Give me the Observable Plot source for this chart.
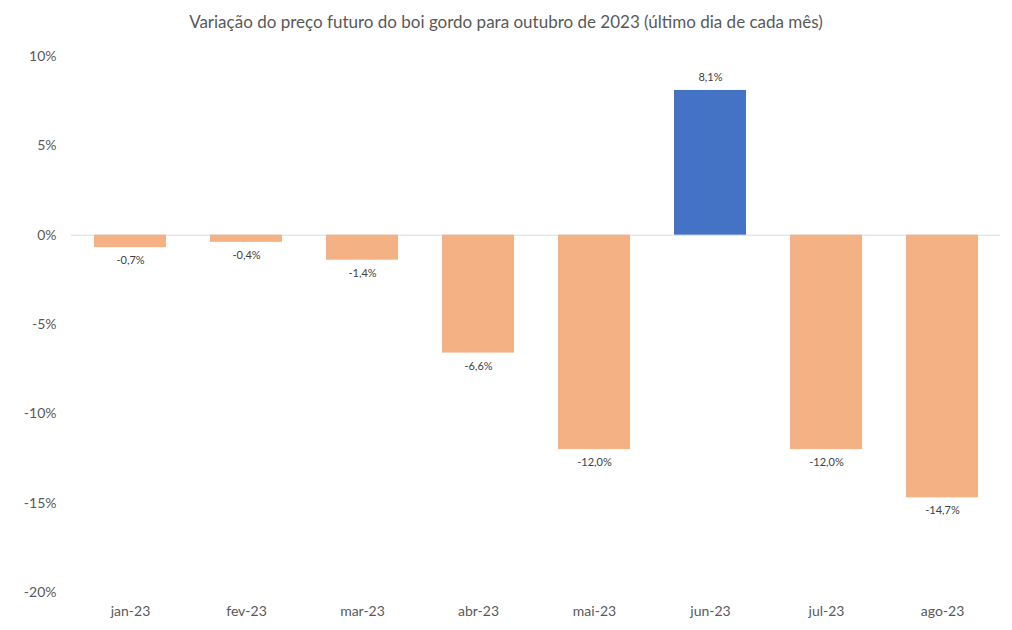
<!DOCTYPE html>
<html><head><meta charset="utf-8">
<script src="https://cdn.jsdelivr.net/npm/d3@7"></script>
<script src="https://cdn.jsdelivr.net/npm/@observablehq/plot@0.6"></script>
<style>
body{margin:0;background:#fff;font-family:Lato,"Open Sans",sans-serif;}
#title{height:40px;line-height:44px;text-align:center;font-size:17px;color:#595959;}
</style></head>
<body>
<div id="title">Variação do preço futuro do boi gordo para outubro de 2023 (último dia de cada mês)</div>
<div id="chart"></div>
<script>
const months = ["jan-23","fev-23","mar-23","abr-23","mai-23","jun-23","jul-23","ago-23"];
const values = [-0.7,-0.4,-1.4,-6.6,-12.0,8.1,-12.0,-14.7];
const yTicks = [-20,-15,-10,-5,0,5,10];
const data = months.map((m,i)=>({month:m,value:values[i]}));
const fmt = v => v.toFixed(1).replace(".", ",") + "%";
const chart = Plot.plot({
  width: 1012, height: 590,
  marginLeft: 71, marginRight: 12, marginTop: 16, marginBottom: 38,
  style: {fontFamily: "Lato, 'Open Sans', sans-serif", color: "#595959", background: "#fff"},
  x: {domain: months, paddingInner: 0.38, paddingOuter: 0.19, label: null, tickSize: 0, tickPadding: 14},
  y: {domain: [-20, 10], ticks: yTicks, tickFormat: d => d + "%", label: null, tickSize: 0, tickPadding: 15},
  marks: [
    Plot.ruleY([0], {stroke: "#d9d9d9", strokeWidth: 1}),
    Plot.barY(data, {x: "month", y: "value", fill: d => d.value >= 0 ? "#4472C4" : "#F4B183"}),
    Plot.text(data.filter(d => d.value < 0), {x: "month", y: "value", text: d => fmt(d.value), dy: 13, fontSize: 11, fill: "#404040"}),
    Plot.text(data.filter(d => d.value >= 0), {x: "month", y: "value", text: d => fmt(d.value), dy: -13, fontSize: 11, fill: "#404040"})
  ]
});
chart.querySelectorAll("[aria-label='x-axis tick label'] text, [aria-label='y-axis tick label'] text").forEach(t => t.style.fontSize = "14px");
chart.querySelectorAll("[aria-label='x-axis tick label'], [aria-label='y-axis tick label']").forEach(g => g.setAttribute("font-size", "14"));
document.getElementById("chart").appendChild(chart);
</script>
</body></html>
